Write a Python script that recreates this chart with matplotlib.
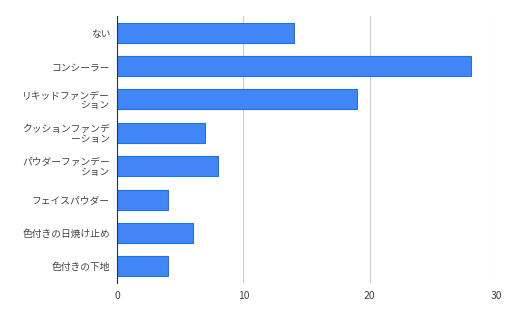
import matplotlib
matplotlib.use("Agg")
import matplotlib.pyplot as plt

plt.rcParams['font.family'] = ['Noto Sans CJK JP', 'DejaVu Sans']

# categories (top to bottom) and counts
labels = ["ない", "コンシーラー", "リキッドファンデー\nション", "クッションファンデ\nーション",
          "パウダーファンデー\nション", "フェイスパウダー", "色付きの日焼け止め", "色付きの下地"]
values = [14, 28, 19, 7, 8, 4, 6, 4]
xticks = [0, 10, 20, 30]

fig = plt.figure(figsize=(5.12, 3.17), dpi=100)
ax = fig.add_axes([0.2285, 0.107, 0.7405, 0.8425])

pos = list(range(len(labels)))
ax.barh(pos, values, height=0.6, color="#4285f4", edgecolor="#1a73e8", linewidth=0.8, zorder=3)
ax.set_ylim(len(labels) - 0.5, -0.5)
ax.set_xlim(0, 30)
ax.set_yticks(pos)
ax.set_yticklabels(labels, fontsize=7, color="#444444", linespacing=1.0)
ax.set_xticks(xticks)
ax.set_xticklabels([str(t) for t in xticks], fontsize=7.5, color="#444444")
ax.tick_params(axis="both", length=0, pad=6)
ax.tick_params(axis="y", pad=5)

ax.grid(axis="x", color="#cccccc", linewidth=0.8, zorder=0)
for s in ["top", "right", "bottom"]:
    ax.spines[s].set_visible(False)
ax.spines["left"].set_color("#333333")
ax.spines["left"].set_linewidth(0.8)
ax.spines["left"].set_zorder(4)

fig.savefig("out.png", dpi=100)
